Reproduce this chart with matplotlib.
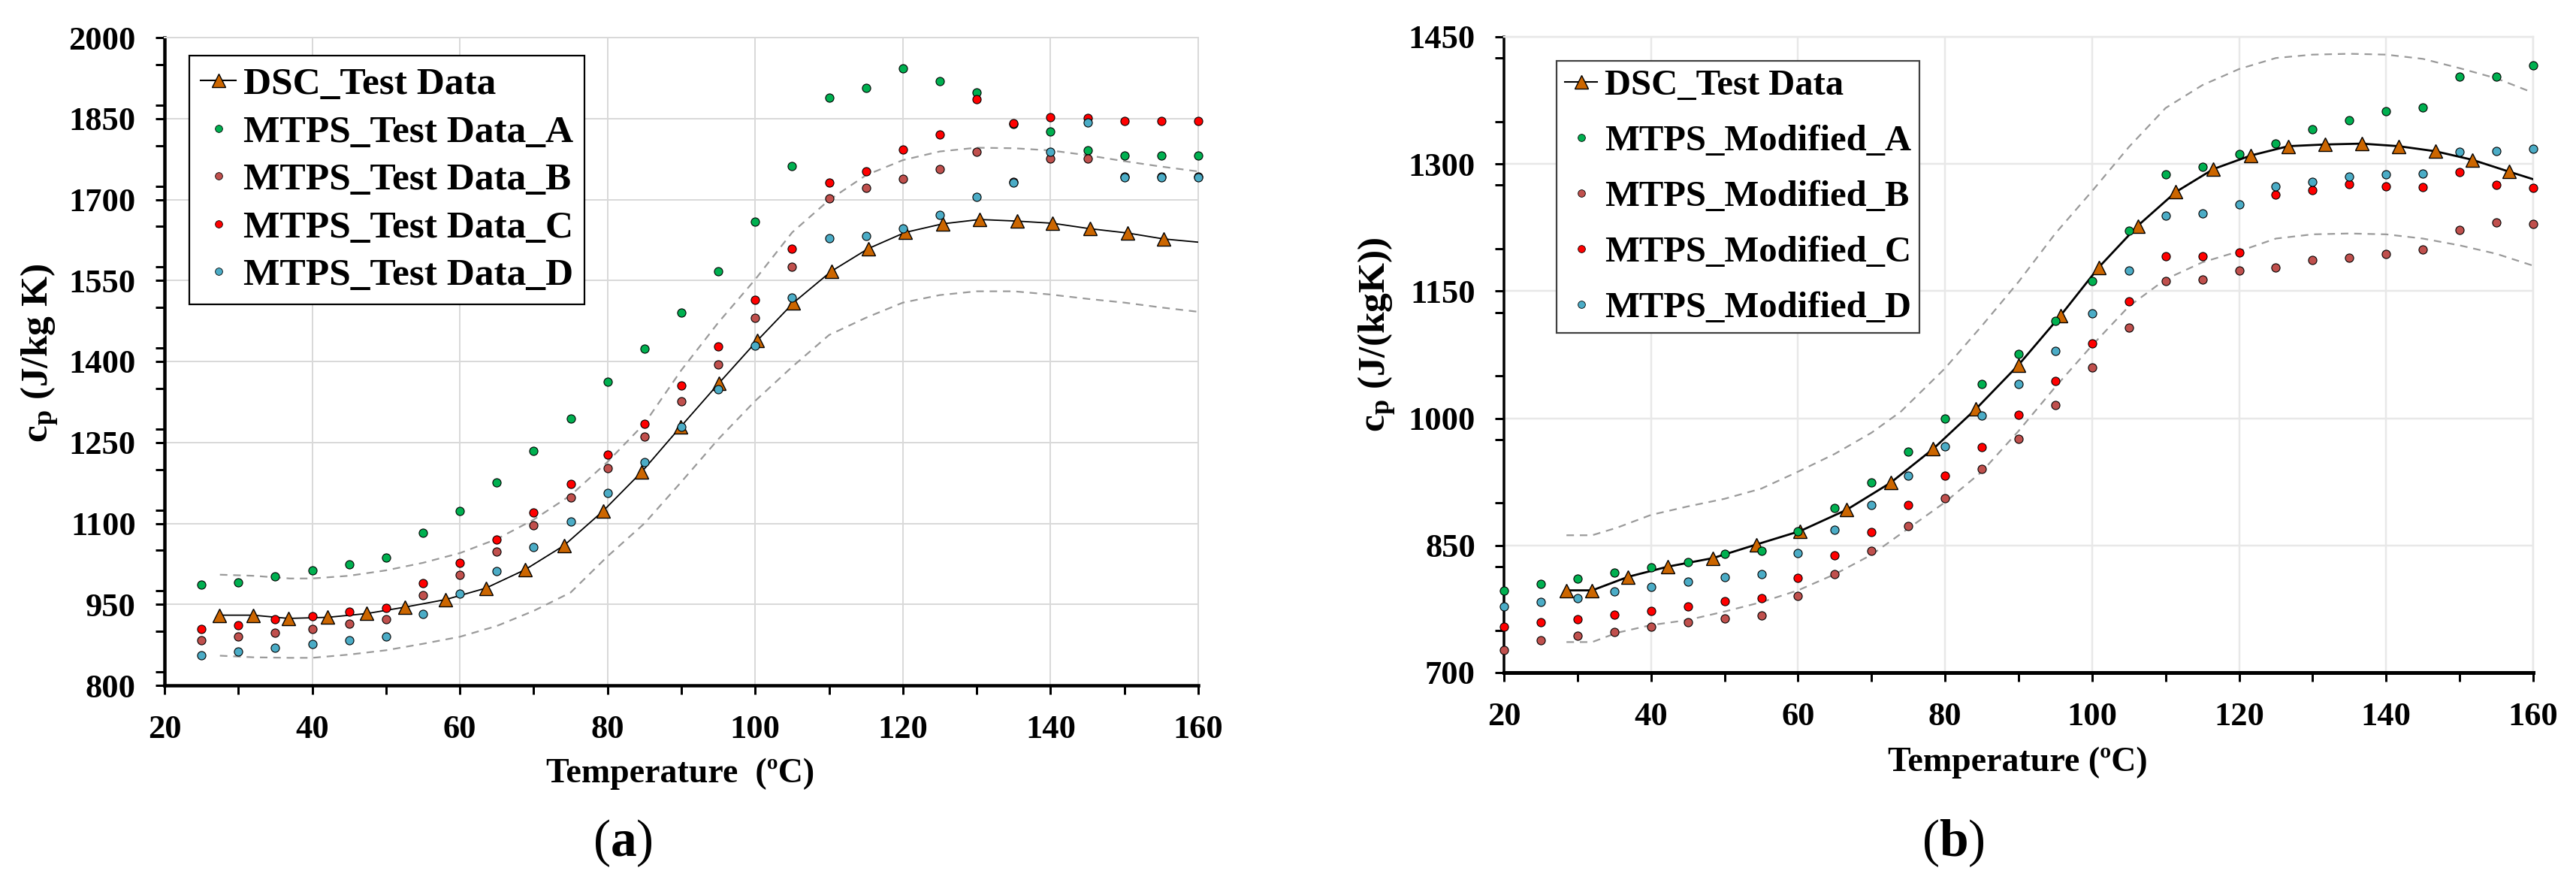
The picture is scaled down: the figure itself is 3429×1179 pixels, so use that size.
import numpy as np
import matplotlib
matplotlib.use("Agg")
import matplotlib.pyplot as plt
from matplotlib.ticker import MultipleLocator
from matplotlib.lines import Line2D

plt.rcParams['font.family'] = ['Liberation Serif', 'DejaVu Serif']
plt.rcParams['font.weight'] = 'bold'
plt.rcParams['mathtext.fontset'] = 'custom'
plt.rcParams['mathtext.rm'] = 'Liberation Serif'
plt.rcParams['mathtext.bf'] = 'Liberation Serif:bold'
plt.rcParams['mathtext.it'] = 'Liberation Serif:italic'

# ---------------- Panel (a) data ----------------
T_mtps_a = [25, 30, 35, 40, 45, 50, 55, 60, 65, 70, 75, 80, 85, 90, 95, 100,
            105, 110, 115, 120, 125, 130, 135, 140, 145, 150, 155, 160]
a_A = [986, 991, 1002, 1013, 1024, 1037, 1082, 1123, 1176, 1235, 1294, 1362, 1424, 1490,
       1567, 1659, 1762, 1888, 1907, 1943, 1919, 1898, 1840, 1826, 1791, 1781, 1781, 1781]
a_B = [884, 891, 898, 905, 914, 922, 967, 1005, 1048, 1096, 1148, 1203, 1261, 1326,
       1395, 1481, 1576, 1702, 1722, 1738, 1757, 1788, 1733, 1776, 1776, 1743, 1743, 1743]
a_C = [905, 912, 922, 928, 936, 943, 989, 1027, 1070, 1120, 1173, 1228, 1285, 1355,
       1428, 1514, 1609, 1731, 1752, 1792, 1821, 1886, 1841, 1853, 1851, 1845, 1845, 1845]
a_D = [855, 862, 869, 877, 884, 891, 932, 970, 1011, 1056, 1104, 1156, 1214, 1279,
       1348, 1429, 1519, 1628, 1633, 1646, 1672, 1705, 1731, 1789, 1842, 1741, 1741, 1741]

T_dsc_a = [27.4, 32.0, 36.8, 42.1, 47.4, 52.6, 58.1, 63.5, 68.8, 74.1, 79.4, 84.6, 89.9,
           95.1, 100.3, 105.2, 110.3, 115.3, 120.3, 125.4, 130.4, 135.5, 140.3, 145.3,
           150.4, 155.3]
cp_dsc_a = [930, 930, 924, 926, 933, 945, 959, 980, 1014, 1059, 1123, 1195, 1279, 1360,
            1439, 1509, 1567, 1609, 1639, 1655, 1663, 1660, 1656, 1646, 1638, 1627]
T_dsc_a_end = [160]
cp_dsc_a_end = [1621]

T_band_a = [27.5, 32, 37, 40, 45, 50, 55, 60, 65, 70, 75, 80, 85, 90, 95, 100, 105,
            110, 115, 120, 125, 130, 135, 140, 145, 150, 155, 160]
upper_a = [1005, 1003, 998, 998, 1003, 1013, 1027, 1045, 1071, 1107, 1152, 1214, 1285,
           1384, 1472, 1552, 1639, 1699, 1745, 1773, 1789, 1796, 1795, 1791, 1782, 1771,
           1761, 1752]
lower_a = [855, 852, 851, 851, 857, 865, 877, 890, 910, 938, 972, 1039, 1100, 1177,
           1256, 1327, 1390, 1449, 1481, 1509, 1523, 1530, 1530, 1524, 1516, 1509, 1500,
           1492]

# ---------------- Panel (b) data ----------------
T_mtps_b = [20, 25, 30, 35, 40, 45, 50, 55, 60, 65, 70, 75, 80, 85, 90, 95, 100,
            105, 110, 115, 120, 125, 130, 135, 140, 145, 150, 155, 160]
b_A = [797, 805, 811, 818, 824, 830, 840, 844, 867, 894, 924, 961, 1000, 1040, 1076, 1115,
       1162, 1221, 1288, 1297, 1312, 1324, 1341, 1352, 1362, 1367, 1403, 1403, 1416]
b_B = [727, 738, 743, 748, 754, 759, 764, 767, 790, 816, 844, 873, 906, 940, 976, 1016,
       1060, 1107, 1162, 1164, 1174, 1178, 1187, 1189, 1194, 1199, 1222, 1231, 1229]
b_C = [754, 759, 763, 768, 773, 778, 784, 788, 812, 838, 866, 898, 932, 966, 1004, 1044,
       1088, 1138, 1191, 1191, 1196, 1264, 1269, 1276, 1274, 1273, 1290, 1275, 1272]
b_D = [778, 783, 788, 796, 801, 807, 813, 816, 841, 868, 898, 932, 967, 1003, 1040, 1079,
       1124, 1174, 1239, 1242, 1252, 1274, 1279, 1285, 1288, 1289, 1314, 1315, 1318]

T_dsc_b = [28.5, 32.0, 36.9, 42.3, 48.4, 54.3, 60.3, 66.6, 72.6, 78.4, 84.2, 90.0, 95.7,
           100.9, 106.2, 111.4, 116.5, 121.6, 126.7, 131.7, 136.7, 141.7, 146.7, 151.7,
           156.7]
cp_dsc_b = [797, 797, 813, 825, 835, 851, 867, 892, 924, 964, 1011, 1063, 1121, 1178,
            1227, 1267, 1294, 1310, 1321, 1323, 1324, 1321, 1315, 1305, 1291]
T_dsc_b_end = [160]
cp_dsc_b_end = [1282]

T_band_b = [28.5, 32, 35.4, 40, 45, 50, 55, 60, 65, 70, 74, 80, 85, 90, 95, 100, 105,
            110, 115, 120, 125, 130, 135, 140, 145, 150, 155, 160]
upper_b = [862, 862, 871, 886, 896, 905, 917, 937, 958, 983, 1008, 1059, 1109, 1161,
           1218, 1268, 1320, 1366, 1393, 1412, 1425, 1429, 1430, 1429, 1424, 1413, 1401,
           1384]
T_band_b_lo = [28.5, 32, 35.4, 40, 45, 50, 55, 60, 65, 70, 75, 80, 85, 90, 95, 100, 105,
               110, 115, 120, 125, 130, 135, 140, 145, 150, 155, 160]
lower_b = [736, 736, 747, 756, 762, 772, 783, 797, 816, 839, 870, 901, 937, 985, 1037,
           1086, 1132, 1164, 1184, 1197, 1212, 1217, 1218, 1217, 1212, 1204, 1194, 1180]

labels_a = ['DSC_Test Data', 'MTPS_Test Data_A', 'MTPS_Test Data_B',
            'MTPS_Test Data_C', 'MTPS_Test Data_D']
labels_b = ['DSC_Test Data', 'MTPS_Modified_A', 'MTPS_Modified_B',
            'MTPS_Modified_C', 'MTPS_Modified_D']

yticks_a = [800, 950, 1100, 1250, 1400, 1550, 1700, 1850, 2000]
yticks_b = [700, 850, 1000, 1150, 1300, 1450]
xticks = [20, 40, 60, 80, 100, 120, 140, 160]

col_A = '#00B050'
col_B = '#C0504D'
col_C = '#FF0000'
col_D = '#4BACC6'
col_dsc = '#CC6600'
PX = 0.72  # points per pixel at dpi 100

fig = plt.figure(figsize=(34.30, 11.79), dpi=100)
ax_a = fig.add_axes([219/3430, 1-912/1179, (1595-219)/3430, (912-50)/1179])
ax_b = fig.add_axes([2002/3430, 1-895/1179, (3372-2002)/3430, (895-49)/1179])


def style_axes(ax, yticks, grid_col, lspine_w, bspine_w, line_w_grid):
    ax.set_xlim(20, 160)
    ax.set_ylim(yticks[0], yticks[-1])
    ax.set_xticks(xticks)
    ax.set_yticks(yticks)
    ax.xaxis.set_minor_locator(MultipleLocator(10))
    ax.yaxis.set_minor_locator(MultipleLocator(75))
    ax.grid(True, which='major', color=grid_col, linewidth=line_w_grid, zorder=0)
    ax.set_axisbelow(True)
    for s in ['top', 'right']:
        ax.spines[s].set_color(grid_col)
        ax.spines[s].set_linewidth(line_w_grid)
    ax.spines['left'].set_color('black')
    ax.spines['left'].set_linewidth(lspine_w)
    ax.spines['bottom'].set_color('black')
    ax.spines['bottom'].set_linewidth(bspine_w)
    ax.tick_params(axis='both', which='both', direction='out', length=12*PX,
                   width=3*PX, colors='black', labelsize=32)
    ax.tick_params(axis='x', which='both', pad=27*PX)
    ax.tick_params(axis='y', which='both', pad=26*PX)
    ax.tick_params(top=False, right=False)
    for lab in ax.get_xticklabels() + ax.get_yticklabels():
        lab.set_fontweight('bold')


def draw(ax, T_m, A, B, C, D, T_dsc, cp_dsc, T_end, cp_end, T_up, up, T_lo, lo,
         dsc_lw, band_lw):
    ax.plot(T_up, up, linestyle=(0, (4.5, 3.5)), color='#9a9a9a', lw=band_lw, zorder=2)
    ax.plot(T_lo, lo, linestyle=(0, (4.5, 3.5)), color='#9a9a9a', lw=band_lw, zorder=2)
    ax.plot(list(T_dsc) + list(T_end), list(cp_dsc) + list(cp_end), color='black',
            lw=dsc_lw, zorder=3)
    ax.plot(T_dsc, cp_dsc, linestyle='none', marker='^', ms=13, mfc=col_dsc,
            mec='black', mew=1.0, zorder=4)
    for vals, c in [(A, col_A), (B, col_B), (C, col_C), (D, col_D)]:
        ax.plot(T_m, vals, linestyle='none', marker='o', ms=8, mfc=c, mec='black',
                mew=0.8, zorder=5, clip_on=False)


def legend(ax, labels, anchor, fs, spacing, edge, pad):
    handles = [Line2D([], [], color='black', lw=1.5, marker='^', ms=13, mfc=col_dsc,
                      mec='black', mew=1.0)]
    for c in [col_A, col_B, col_C, col_D]:
        handles.append(Line2D([], [], linestyle='none', marker='o', ms=7, mfc=c,
                              mec='black', mew=0.6))
    leg = ax.legend(handles, labels, loc='upper left', bbox_to_anchor=anchor,
                    borderaxespad=0, fancybox=False, framealpha=1, edgecolor=edge,
                    prop={'family': 'Liberation Serif', 'weight': 'bold', 'size': fs},
                    labelspacing=spacing, handlelength=0.9, handletextpad=0.2,
                    borderpad=pad)
    leg.get_frame().set_linewidth(2.2*PX)
    leg.set_zorder(10)
    return leg


style_axes(ax_a, yticks_a, '#d9d9d9', 4.5*PX, 4.5*PX, 2*PX)
style_axes(ax_b, yticks_b, '#e8e8e8', 3.5*PX, 5*PX, 2.5*PX)

draw(ax_a, T_mtps_a, a_A, a_B, a_C, a_D, T_dsc_a, cp_dsc_a, T_dsc_a_end, cp_dsc_a_end,
     T_band_a, upper_a, T_band_a, lower_a, 1.3, 1.6)
draw(ax_b, T_mtps_b, b_A, b_B, b_C, b_D, T_dsc_b, cp_dsc_b, T_dsc_b_end, cp_dsc_b_end,
     T_band_b, upper_b, T_band_b_lo, lower_b, 2.0, 1.6)

legend(ax_a, labels_a, ((252-219)/1376, (912-74)/862), 37, 0.32, 'black', 0.3)
legend(ax_b, labels_b, ((2072-2002)/1370, (895-81)/846), 35, 0.62, '#404040', 0.22)

# axis labels
fig.text(53/3430, 1-470/1179, r'c$_{\mathbf{p}}$ (J/kg K)', rotation=90, ha='center',
         va='center', fontsize=37, fontweight='bold')
fig.text(1833/3430, 1-445/1179, r'c$_{\mathbf{p}}$ (J/(kgK))', rotation=90, ha='center',
         va='center', fontsize=37, fontweight='bold')
fig.text(906/3430, 1-1030/1179, 'Temperature  (ºC)', ha='center', va='center',
         fontsize=33, fontweight='bold')
fig.text(2686/3430, 1-1015/1179, 'Temperature (ºC)', ha='center', va='center',
         fontsize=33, fontweight='bold')
fig.text(829/3430, 1-1122/1179, r'($\mathbf{a}$)', ha='center', va='center',
         fontsize=50, fontweight='normal')
fig.text(2600/3430, 1-1122/1179, r'($\mathbf{b}$)', ha='center', va='center',
         fontsize=50, fontweight='normal')

fig.savefig('out.png', dpi=100, facecolor='white')
